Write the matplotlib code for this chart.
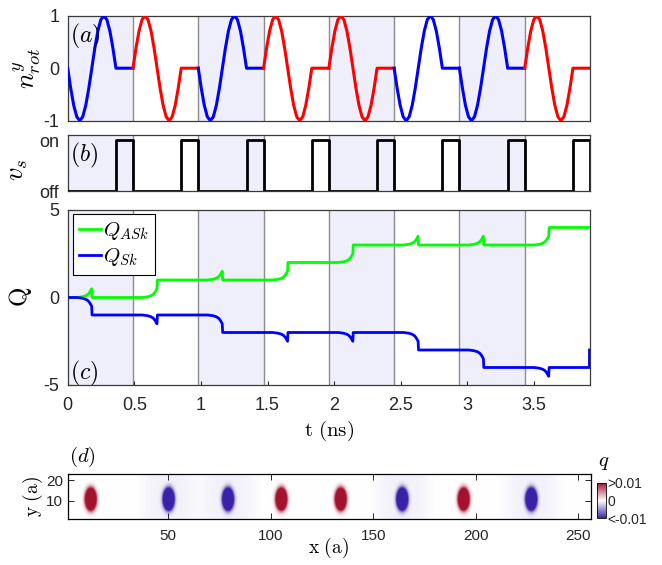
import numpy as np
import matplotlib
matplotlib.use('Agg')
import matplotlib.pyplot as plt
from matplotlib.colors import LinearSegmentedColormap

plt.rcParams['font.family'] = ['Liberation Sans', 'DejaVu Sans']
plt.rcParams['mathtext.fontset'] = 'cm'
plt.rcParams['axes.unicode_minus'] = False

# ---------------- data ----------------
segment_starts = [0.0, 0.49, 0.98, 1.47, 1.96, 2.45, 2.94, 3.43]
segment_end = 3.92
segment_shaded = [1, 0, 1, 0, 1, 0, 1, 0]
segment_sense = [-1, 1, -1, 1, 1, -1, -1, 1]          # -1: blue, +1: red
rotation_duration = 0.362                              # ns, then rest at 0
rotation_profile = [0, 0.383, 0.707, 0.924, 1.0, 0.924, 0.707, 0.383, 0,
                    -0.383, -0.707, -0.924, -1.0, -0.924, -0.707, -0.383, 0]
vs_on_offset = 0.362                                   # v_s switched on here in each segment
vs_ticks = [0, 1]
vs_ticklabels = ['off', 'on']

event_times = [0.18, 0.67, 1.16, 1.65, 2.14, 2.63, 3.12, 3.61]
asky_steps = [0, 1, 0, 1, 1, 0, 0, 1]                  # 1: permanent +1 step, 0: transient bump
sky_steps = [1, 0, 1, 0, 0, 1, 1, 0]                   # 1: permanent -1 step, 0: transient dip
approach_dt = [-0.11, -0.07, -0.045, -0.028, -0.015, -0.006, 0.0]
approach_frac = [0.0, 0.04, 0.10, 0.18, 0.30, 0.42, 0.50]
sky_final_level = -3

sk_x = [12, 50, 79, 105, 134, 164, 194, 227]
sk_y = [10.5] * 8
sk_sign = [1, -1, -1, 1, 1, -1, 1, -1]
sk_halo = [0.0, 0.0006, 0.0006, 0.0, 0.0, 0.0006, 0.0, 0.0006]

t_ticks = [0, 0.5, 1, 1.5, 2, 2.5, 3, 3.5]
t_ticklabels = ['0', '0.5', '1', '1.5', '2', '2.5', '3', '3.5']
q_ticks = [-5, 0, 5]
n_ticks = [-1, 0, 1]
x_ticks = [50, 100, 150, 200, 250]
y_ticks = [10, 20]
cb_ticks = [-0.01, 0, 0.01]
cb_ticklabels = ['<-0.01', '0', '>0.01']

# ---------------- figure ----------------
W, H = 662, 565
fig = plt.figure(figsize=(W / 100, H / 100), dpi=100)


def rect(l, t, r, b):
    return [l / W, 1 - b / H, (r - l) / W, (b - t) / H]


axa = fig.add_axes(rect(67.7, 15.7, 590, 120.7))
axb = fig.add_axes(rect(67.7, 135, 590, 191))
axc = fig.add_axes(rect(67.7, 210, 590, 385))
axd = fig.add_axes(rect(67.7, 474, 590.7, 519.3))
cax = fig.add_axes(rect(597, 482.7, 606, 518.3))

shade = '#EFEFFB'
sepcol = '#8C8C8C'
spinecol = '#3A3A3A'
textcol = '#262626'

for ax in (axa, axb, axc):
    for s, sh in zip(segment_starts, segment_shaded):
        e = s + 0.49
        if sh:
            ax.axvspan(s, e, color=shade, lw=0, zorder=0)
    for s in segment_starts[1:]:
        ax.axvline(s, color=sepcol, lw=1.0, zorder=1)
    ax.set_xlim(0, segment_end)
    for sp in ax.spines.values():
        sp.set_color(spinecol)
        sp.set_linewidth(0.9)

# (a) rotation
prof = np.array(rotation_profile)
ph = np.linspace(0, rotation_duration, len(prof))
for s, sense in zip(segment_starts, segment_sense):
    tt = np.concatenate([s + ph, [s + 0.49]])
    yy = np.concatenate([sense * prof, [0]])
    axa.plot(tt, yy, color='red' if sense > 0 else 'blue', lw=2.2, zorder=3,
             solid_joinstyle='round')
axa.set_ylim(-1, 1)
axa.set_yticks(n_ticks)
axa.set_yticklabels(['-1', '0', '1'])
axa.set_xticks([])
axa.tick_params(axis='y', direction='in', length=0, labelsize=13, pad=6,
                colors=textcol)
axa.text(0.005, 0.94, r'$(a)$', transform=axa.transAxes, fontsize=17,
         va='top', ha='left', zorder=5)

# (b) v_s
vt, vv = [], []
for s in segment_starts:
    vt += [s, s + vs_on_offset, s + vs_on_offset, s + 0.49]
    vv += [0, 0, 1, 1]
vt.append(segment_end)
vv.append(0)
axb.plot(vt, vv, color='black', lw=2.0, zorder=3)
axb.set_ylim(0, 1.1)
axb.set_yticks(vs_ticks)
axb.set_yticklabels(vs_ticklabels)
axb.set_xticks([])
axb.tick_params(axis='y', direction='in', length=0, labelsize=13, pad=6,
                colors=textcol)
axb.text(0.005, 0.9, r'$(b)$', transform=axb.transAxes, fontsize=17,
         va='top', ha='left', zorder=5)


# (c) topological charges
def build(sign, steps):
    t, q = [0.0], [0.0]
    level = 0
    for te, st in zip(event_times, steps):
        for dt, f in zip(approach_dt, approach_frac):
            t.append(te + dt)
            q.append(level + sign * f)
        if st:
            level += sign
        t.append(te + 0.003)
        q.append(level)
    t.append(segment_end)
    q.append(level)
    return np.array(t), np.array(q)


tg, qg = build(1, asky_steps)
tb, qb = build(-1, sky_steps)
tb = np.append(tb, [segment_end])
qb = np.append(qb, [sky_final_level])
tb[-2] = segment_end - 0.004
tb[-1] = segment_end - 0.004
axc.plot(tg, qg, color='#00FF00', lw=2.0, zorder=3, label=r'$Q_{ASk}$')
axc.plot(tb, qb, color='blue', lw=2.0, zorder=3, label=r'$Q_{Sk}$')
axc.set_ylim(-5, 5)
axc.set_yticks(q_ticks)
axc.set_xticks(t_ticks)
axc.set_xticklabels(t_ticklabels)
axc.tick_params(direction='in', length=3, labelsize=13, colors=textcol)
axc.tick_params(axis='x', pad=9)
axc.tick_params(axis='y', pad=6)
axc.text(0.005, 0.15, r'$(c)$', transform=axc.transAxes, fontsize=17,
         va='top', ha='left', zorder=5)
leg = axc.legend(loc='upper left', bbox_to_anchor=(0.0096, 0.977),
                 borderaxespad=0, fontsize=15, handlelength=1.05,
                 handletextpad=0.1, labelspacing=0.2, borderpad=0.3,
                 fancybox=False, framealpha=1, edgecolor='black')
leg.get_frame().set_linewidth(0.8)

fig.text(328.9 / W, 1 - 431 / H, r'$\mathrm{t\ (ns)}$', fontsize=15,
         ha='center', va='center')
fig.text(27 / W, 1 - 68 / H, r'$n^{y}_{rot}$', fontsize=19, rotation=90,
         ha='center', va='center')
fig.text(18 / W, 1 - 170 / H, r'$v_s$', fontsize=19, rotation=90,
         ha='center', va='center')
fig.text(21 / W, 1 - 297 / H, r'$\mathrm{Q}$', fontsize=18, rotation=90,
         ha='center', va='center')

# (d) charge density map
xs = np.linspace(1, 256, 1021)
ys = np.linspace(1, 23, 89)
X, Y = np.meshgrid(xs, ys)
Z = np.zeros_like(X)
for x0, y0, sg, hl in zip(sk_x, sk_y, sk_sign, sk_halo):
    r2 = ((X - x0) / 1.8) ** 2 + ((Y - y0) / 3.5) ** 2
    Z += sg * 0.04 * np.exp(-0.5 * r2 ** 1.25)
    Z -= hl * np.exp(-((X - x0) / 13.0) ** 4)
cmap = LinearSegmentedColormap.from_list(
    'q', [(0.0, '#3A22A8'), (0.5, '#FFFFFF'), (1.0, '#A3122E')])
im = axd.imshow(Z, extent=[1, 256, 1, 23], origin='lower', aspect='auto',
                cmap=cmap, vmin=-0.01, vmax=0.01, interpolation='bilinear')
axd.set_xlim(1, 256)
axd.set_ylim(1, 23)
axd.set_xticks(x_ticks)
axd.set_yticks(y_ticks)
axd.tick_params(direction='in', length=4, width=0.7, top=True, right=True,
                labelsize=11, colors=textcol)
axd.tick_params(axis='x', pad=7)
for sp in axd.spines.values():
    sp.set_color('black')
    sp.set_linewidth(0.9)
axd.text(0.002, 1.12, r'$(d)$', transform=axd.transAxes, fontsize=15,
         va='bottom', ha='left')
fig.text(328.9 / W, 1 - 548 / H, r'$\mathrm{x\ (a)}$', fontsize=14,
         ha='center', va='center')
fig.text(33 / W, 1 - 497 / H, r'$\mathrm{y\ (a)}$', fontsize=14, rotation=90,
         ha='center', va='center')

cb = fig.colorbar(im, cax=cax, ticks=cb_ticks)
cb.ax.set_yticklabels(cb_ticklabels)
cb.ax.tick_params(length=0, labelsize=10, pad=1, colors=textcol)
cb.outline.set_linewidth(0.6)
fig.text(604 / W, 1 - 463 / H, r'$q$', fontsize=15, ha='center', va='center')

fig.savefig('out.png', dpi=100)
